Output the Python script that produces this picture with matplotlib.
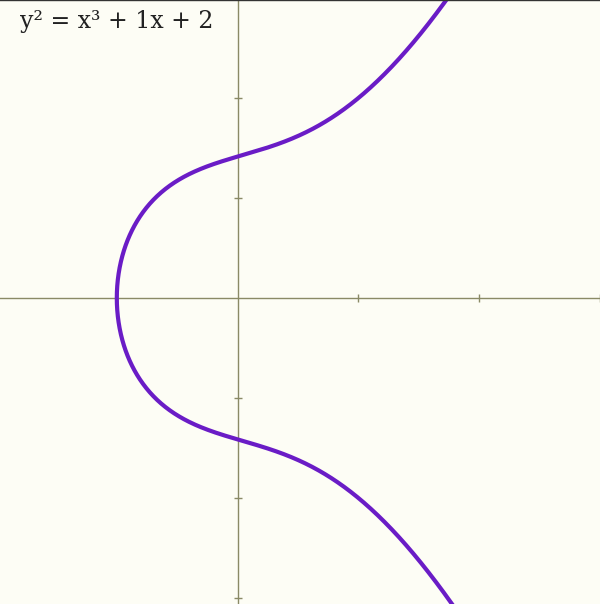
import matplotlib
matplotlib.use("Agg")
import matplotlib.pyplot as plt
import numpy as np

# curve y^2 = x^3 + a*x + b
a = 1
b = 2
x_root = -1.0          # real root of x^3 + a*x + b
x_max = 1.8
x_ticks = [-1, 1, 2, 3]
y_ticks = [-3, -2, -1, 1, 2]
label = "y\u00b2 = x\u00b3 + 1x + 2"

bg = "#fdfdf5"
axis_color = "#8a8a66"
curve_color = "#6a1cc6"

fig = plt.figure(figsize=(6.0, 6.04), dpi=100, facecolor=bg)
ax = fig.add_axes([0, 0, 1, 1], facecolor=bg)

# denser sampling close to the root so the nose is smooth
t = np.linspace(0, 1, 600)
xs = x_root + (x_max - x_root) * t ** 2
ys = np.sqrt(np.clip(xs ** 3 + a * xs + b, 0, None))
xx = np.concatenate([xs[::-1], xs])
yy = np.concatenate([-ys[::-1], ys])
ax.plot(xx, yy, color=curve_color, lw=3.0, solid_capstyle="round", zorder=3)

ax.set_xlim(-238 / 121, 362 / 121)
ax.set_ylim(-306 / 100, 298 / 100)

for s in ["top", "right"]:
    ax.spines[s].set_visible(False)
for s in ["left", "bottom"]:
    ax.spines[s].set_position("zero")
    ax.spines[s].set_color(axis_color)
    ax.spines[s].set_linewidth(1.0)
ax.set_xticks(x_ticks)
ax.set_yticks(y_ticks)
ax.tick_params(direction="inout", length=6, width=1, color=axis_color,
               labelbottom=False, labelleft=False)

fig.text(20 / 600, 1 - 10 / 604, label, fontsize=17, family="DejaVu Serif",
         color="#222222", ha="left", va="top")

fig.add_artist(plt.Line2D([0, 1], [1, 1], transform=fig.transFigure,
                          color="#333333", lw=1.0))

fig.savefig("out.png", dpi=100, facecolor=bg)
